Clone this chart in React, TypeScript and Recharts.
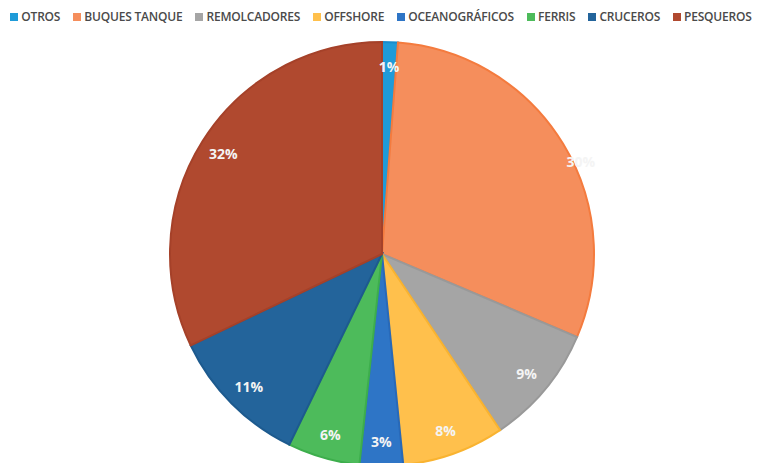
import { PieChart, Pie, Cell } from 'recharts';

const categories = ['OTROS', 'BUQUES TANQUE', 'REMOLCADORES', 'OFFSHORE', 'OCEANOGRÁFICOS', 'FERRIS', 'CRUCEROS', 'PESQUEROS'];
const shares = [1.2, 30.2, 9.2, 7.8, 3.3, 5.5, 10.7, 32.1];
const fills = ['#1f9bd8', '#f58e5c', '#a5a5a5', '#ffc04c', '#2e75c6', '#4dbb5b', '#23649b', '#b0492f'];
const strokes = ['#188ccc', '#f47b3e', '#999999', '#f9b330', '#2869b8', '#3dae4c', '#1d5a8e', '#a54129'];

// label placement tweaks (radius factor, angle shift in degrees)
const labelTweaks: Record<number, { r: number; da: number }> = {
  1: { r: 1.035, da: -6.3 },
};

const data = categories.map((name, i) => ({ name, value: shares[i] }));

const RAD = Math.PI / 180;

function renderLabel(props: any) {
  const { cx, cy, midAngle, outerRadius, index, percent } = props;
  const t = labelTweaks[index] ?? { r: 0.885, da: 0 };
  const a = (midAngle + t.da) * RAD;
  const r = outerRadius * t.r;
  const x = cx + r * Math.cos(-a);
  const y = cy + r * Math.sin(-a);
  return (
    <text
      x={x}
      y={y}
      fill="#f4f4f4"
      textAnchor="middle"
      dominantBaseline="central"
      fontSize={14}
      fontWeight={700}
      fontFamily="'Open Sans', sans-serif"
    >
      {`${Math.round(percent * 100)}%`}
    </text>
  );
}

function LegendBar() {
  return (
    <div
      style={{
        position: 'absolute',
        top: 8,
        left: 0,
        width: 762,
        display: 'flex',
        justifyContent: 'center',
        gap: 13,
        fontFamily: "'Open Sans', sans-serif",
        fontSize: 12,
        fontWeight: 600,
        color: '#4a4a4a',
        whiteSpace: 'nowrap',
        lineHeight: '18px',
        letterSpacing: -0.2,
      }}
    >
      {categories.map((c, i) => (
        <div key={c} style={{ display: 'flex', alignItems: 'center', gap: 3 }}>
          <span style={{ width: 8, height: 8, background: fills[i], display: 'inline-block' }} />
          <span>{c}</span>
        </div>
      ))}
    </div>
  );
}

export default function App() {
  return (
    <div style={{ position: 'absolute', left: 0, top: 0, width: 762, height: 463, background: '#fff' }}>
      <PieChart width={762} height={463} margin={{ top: 0, right: 0, bottom: 0, left: 0 }}>
        <Pie
          data={data}
          dataKey="value"
          nameKey="name"
          cx={382}
          cy={254}
          outerRadius={212}
          startAngle={90}
          endAngle={-270}
          labelLine={false}
          label={renderLabel}
          isAnimationActive={false}
        >
          {data.map((d, i) => (
            <Cell key={d.name} fill={fills[i]} stroke={strokes[i]} strokeWidth={2} />
          ))}
        </Pie>
      </PieChart>
      <LegendBar />
    </div>
  );
}
